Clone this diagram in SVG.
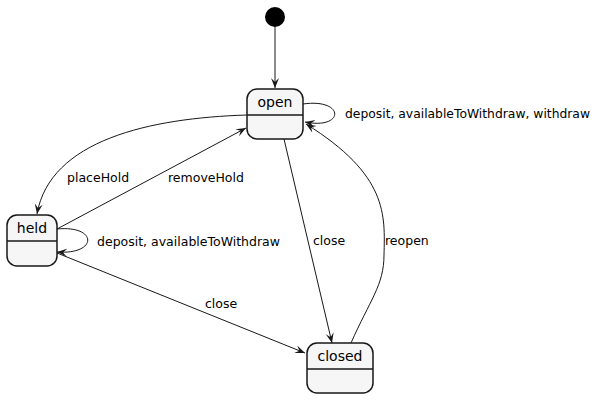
<svg xmlns="http://www.w3.org/2000/svg" width="601" height="403" viewBox="0 0 601 403">
<defs>
<style>
.st rect{fill:#F6F6F6;stroke:#181818;stroke-width:1.5}
.st line{stroke:#181818;stroke-width:1.5}
.nm{font-family:"DejaVu Sans",sans-serif;font-size:14px;fill:#000;text-anchor:middle}
.lb{font-family:"DejaVu Sans",sans-serif;font-size:12.5px;fill:#000}
.e{fill:none;stroke:#181818;stroke-width:1;marker-end:url(#ah)}
</style>
<marker id="ah" viewBox="0 0 10 10" refX="10" refY="5" markerWidth="10" markerHeight="10" markerUnits="userSpaceOnUse" orient="auto">
<path d="M0,1 L10,5 L0,9 L4,5 Z" fill="#181818"/>
</marker>
</defs>
<g id="start"><circle cx="275" cy="17" r="10" fill="#000"/></g>
<g id="open" class="st"><rect x="247" y="89" width="56" height="50" rx="10"/><line x1="247" y1="115" x2="303" y2="115"/><text class="nm" x="275" y="107">open</text></g>
<g id="held" class="st"><rect x="7" y="215" width="50" height="51" rx="10"/><line x1="7" y1="241" x2="57" y2="241"/><text class="nm" x="32" y="233">held</text></g>
<g id="closed" class="st"><rect x="307" y="343" width="66" height="50" rx="10"/><line x1="307" y1="369" x2="373" y2="369"/><text class="nm" x="340" y="361">closed</text></g>
<g id="edges">
<path class="e" d="M275,27 L275,88"/>
<path class="e" d="M303,104 C345,98 345,130 305,122"/>
<text class="lb" x="345" y="118" textLength="245" lengthAdjust="spacingAndGlyphs">deposit, availableToWithdraw, withdraw</text>
<path class="e" d="M247,115 C150,118 50,140 37,214"/>
<text class="lb" x="67" y="182">placeHold</text>
<path class="e" d="M57,229 L246,128"/>
<text class="lb" x="168" y="182">removeHold</text>
<path class="e" d="M57,229 C98,225 98,255 57,252"/>
<text class="lb" x="97" y="246" textLength="183" lengthAdjust="spacingAndGlyphs">deposit, availableToWithdraw</text>
<path class="e" d="M57,253 L305,353"/>
<text class="lb" x="205" y="308">close</text>
<path class="e" d="M284,139 L332,343"/>
<text class="lb" x="313" y="245">close</text>
<path class="e" d="M351,343 C370,300 384,285 384,255 C385,215 388,175 306,124"/>
<text class="lb" x="385" y="245">reopen</text>
</g>
</svg>
